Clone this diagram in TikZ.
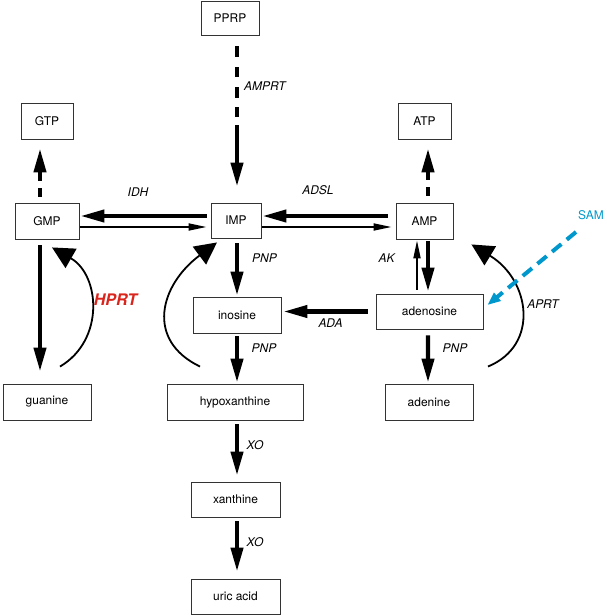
\documentclass[tikz,border=0pt]{standalone}
\usepackage{fontspec}
\setmainfont{TeX Gyre Heros}
\usetikzlibrary{arrows.meta}
\definecolor{samblue}{RGB}{0,152,204}
\definecolor{hprtred}{RGB}{218,37,29}
\begin{document}
\begin{tikzpicture}[x=1bp,y=-1bp,
  box/.style={draw=black!80, line width=0.9bp, inner sep=0pt, font=\fontsize{12}{14}\selectfont},
  sz/.style 2 args={minimum width=#1bp, minimum height=#2bp},
  lab/.style={font=\fontsize{12}{14}\selectfont\itshape, inner sep=0pt},
  thk/.style={line width=4.2bp, -{Triangle[length=24bp,width=12bp]}},
  thn/.style={line width=1.8bp, -{Triangle[length=18bp,width=7bp]}},
  crv/.style={line width=1.8bp, -{Triangle[length=22bp,width=22bp]}},
  samarrow/.style={draw=samblue, line width=4bp, dash pattern=on 12bp off 7bp, -{Triangle[length=13bp,width=10bp]}}
  ]
\useasboundingbox (0,0) rectangle (607,616);

% boxes
\node[box, sz={58}{34}] (pprp) at (230,18) {PPRP};
\node[box, sz={52}{36}] (gtp) at (47,121) {GTP};
\node[box, sz={53}{36}] (atp) at (424.5,121) {ATP};
\node[box, sz={64}{36}] (gmp) at (47,221) {GMP};
\node[box, sz={50}{35}] (imp) at (236,220.5) {IMP};
\node[box, sz={57}{36}] (amp) at (424.5,221) {AMP};
\node[box, sz={88}{36}] (inosine) at (237,315) {inosine};
\node[box, sz={107}{35}] (adenosine) at (429.5,311.5) {adenosine};
\node[box, sz={88}{36}] (guanine) at (47,402) {guanine};
\node[box, sz={136}{36}] (hypo) at (235,402) {hypoxanthine};
\node[box, sz={88}{36}] (adenine) at (429,402) {adenine};
\node[box, sz={89}{35}] (xanthine) at (235.5,499.5) {xanthine};
\node[box, sz={89}{35}] (uric) at (235.5,596.5) {uric acid};

% labels
\node[lab, anchor=west] (amprt) at (244,86) {AMPRT};
\node[lab] (idh) at (138,192) {IDH};
\node[lab] (adsl) at (318,190) {ADSL};
\node[lab] (pnp1) at (264.5,258) {PNP};
\node[lab] (pnp2) at (264,348) {PNP};
\node[lab] (ada) at (330.5,323) {ADA};
\node[lab] (ak) at (386.5,258) {AK};
\node[lab] (pnp3) at (455,348) {PNP};
\node[lab] (aprt) at (543,304) {APRT};
\node[lab] (xo1) at (255,445) {XO};
\node[lab] (xo2) at (255,542) {XO};
\node[font=\fontsize{16}{18}\selectfont\bfseries\itshape, text=hprtred, inner sep=0pt] (hprt) at (115.5,300) {HPRT};
\node[font=\fontsize{12}{14}\selectfont, text=samblue, inner sep=0pt] (sam) at (591,215) {SAM};

% PPRP -> IMP
\draw[thk, dash pattern=on 11bp off 10bp on 10bp off 10bp on 11bp off 9bp on 10bp off 8bp on 300bp, shorten <=11bp, shorten >=16bp]
  ([xshift=1bp]imp.north |- pprp.south) -- ([xshift=1bp]imp.north);

% GMP -> GTP, AMP -> ATP
\draw[thk, dash pattern=on 9bp off 7bp on 300bp] ([xshift=-7bp,yshift=6bp]gmp.north) -- ([xshift=-7bp,yshift=-9bp]gtp.south);
\draw[thk, dash pattern=on 9bp off 7bp on 300bp] ([xshift=3.5bp,yshift=7bp]amp.north) -- ([xshift=3.5bp,yshift=-9bp]atp.south);

% horizontal
\draw[thk, shorten <=4bp, shorten >=1bp] ([yshift=4.5bp]imp.west) -- ([yshift=4.5bp]imp.west -| gmp.east);
\draw[thn, shorten <=1bp, shorten >=4bp] ([yshift=-6.5bp]imp.west -| gmp.east) -- ([yshift=-6.5bp]imp.west);
\draw[thk, shorten <=8bp, shorten >=1bp] ([yshift=4.5bp]imp.east -| amp.west) -- ([yshift=4.5bp]imp.east);
\draw[thn, shorten <=1bp, shorten >=4bp] ([yshift=-6.5bp]imp.east) -- ([yshift=-6.5bp]imp.east -| amp.west);
\draw[thk, shorten <=8bp, shorten >=2bp] (adenosine.west) -- (adenosine.west -| inosine.east);

% vertical
\draw[thk] ([xshift=-7bp,yshift=-6bp]gmp.south) -- ([xshift=-7bp,yshift=12bp]guanine.north);
\draw[thk] ([xshift=1bp,yshift=-5bp]imp.south) -- ([xshift=1bp,yshift=1bp]imp.south |- inosine.north);
\draw[thk] ([yshift=-3bp]inosine.south) -- ([yshift=1bp]inosine.south |- hypo.north);
\draw[thk] ([xshift=2bp,yshift=-4bp]hypo.south) -- ([xshift=2bp,yshift=6bp]hypo.south |- xanthine.north);
\draw[thk] ([xshift=1.5bp,yshift=-4bp]xanthine.south) -- ([xshift=1.5bp,yshift=7bp]uric.north);
\draw[thk] ([xshift=3.5bp,yshift=-1.5bp]amp.south) -- ([xshift=3.5bp,yshift=2bp]amp.south |- adenosine.north);
\draw[thn] ([xshift=-7.5bp,yshift=4bp]amp.south |- adenosine.north) -- ([xshift=-7.5bp,yshift=-1bp]amp.south);
\draw[thk] ([xshift=-1.5bp,yshift=-6bp]adenosine.south) -- ([xshift=-1bp,yshift=1bp]adenine.north);

% salvage curves
\draw[crv] ([xshift=13bp,yshift=17bp]guanine.north) .. controls (105,340) and (100,275) .. ([xshift=5bp,yshift=-8bp]gmp.south);
\draw[crv] ([xshift=-35bp,yshift=17bp]hypo.north) .. controls (145,340) and (160,285) .. ([xshift=-19bp,yshift=-4bp]imp.south);
\draw[crv] ([xshift=59bp,yshift=17bp]adenine.north) .. controls (540,345) and (530,280) .. ([xshift=18bp,yshift=-5bp]amp.south east);

% SAM
\draw[samarrow] ([xshift=-15bp,yshift=-17bp]sam.center) -- ([xshift=4bp,yshift=6.5bp]adenosine.east);
\end{tikzpicture}
\end{document}
